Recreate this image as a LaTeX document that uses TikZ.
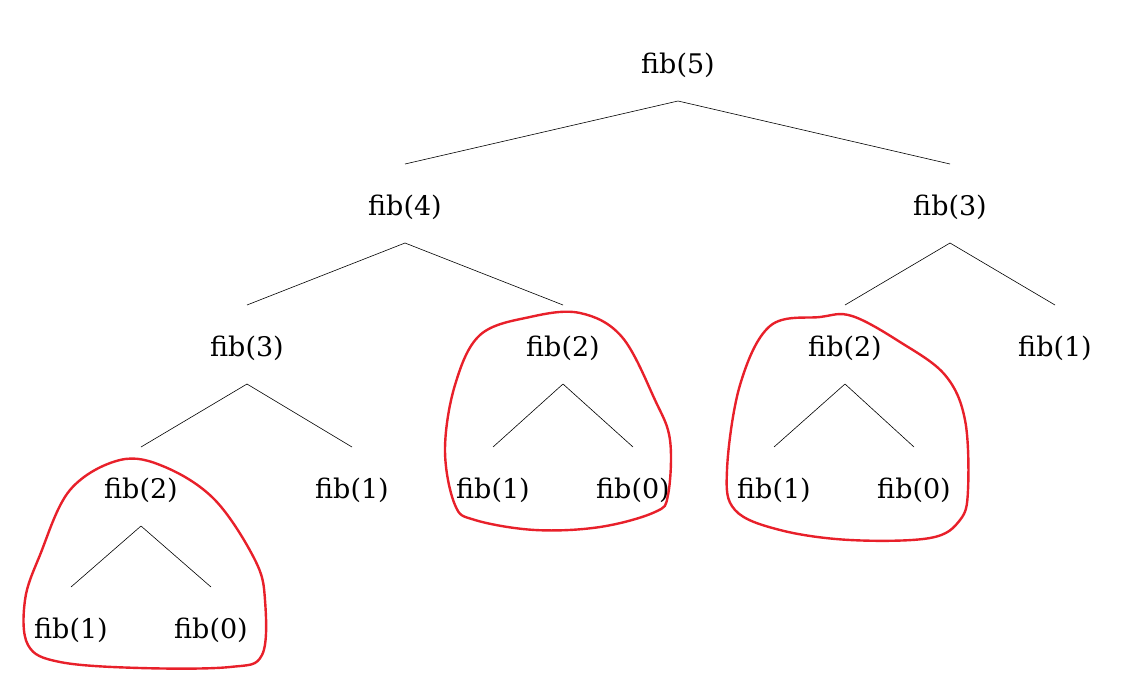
\documentclass[tikz,border=0pt]{standalone}
\usetikzlibrary{calc}
\usepackage{fontspec}
\setmainfont{DejaVu Serif}
\definecolor{loopred}{HTML}{E8202A}
\begin{document}
\begin{tikzpicture}[x=1pt,y=-1pt,
  t/.style={font=\fontsize{27}{30}\selectfont,inner sep=0pt},
  e/.style={line width=0.6pt},
  loop/.style={loopred,line width=2.4pt}]
\useasboundingbox (0,0) rectangle (1127,672);
\node[t] (a) at (678,65) {fib(5)};
\node[t] (b) at (405,207) {fib(4)};
\node[t] (c) at (950,207) {fib(3)};
\node[t] (d) at (247,348) {fib(3)};
\node[t] (e1) at (563,348) {fib(2)};
\node[t] (f) at (845,348) {fib(2)};
\node[t] (g) at (1055,348) {fib(1)};
\node[t] (h) at (141,490) {fib(2)};
\node[t] (i) at (352,490) {fib(1)};
\node[t] (j) at (493,490) {fib(1)};
\node[t] (k) at (633,490) {fib(0)};
\node[t] (l) at (774,490) {fib(1)};
\node[t] (m) at (914,490) {fib(0)};
\node[t] (n) at (71,630) {fib(1)};
\node[t] (o) at (211,630) {fib(0)};
\foreach \p/\q in {a/b,a/c,b/d,b/e1,c/f,c/g,d/h,d/i,e1/j,e1/k,f/l,f/m,h/n,h/o}
  \draw[e] ($(\p)+(0,36)$) -- ($(\q)+(0,-43)$);
\draw[loop] plot[smooth cycle,tension=0.6] coordinates {(120,460) (165,467) (215,500) (255,560) (265,600) (262,655) (230,667) (140,668) (60,662) (28,645) (25,600) (40,555) (70,490)};
\draw[loop] plot[smooth cycle,tension=0.6] coordinates {(580,313) (622,337) (655,400) (670,440) (668,495) (655,512) (600,527) (535,530) (475,520) (455,505) (445,450) (455,385) (480,335) (530,317)};
\draw[loop] plot[smooth cycle,tension=0.6] coordinates {(852,316) (900,342) (945,375) (965,420) (968,490) (960,520) (930,538) (850,540) (780,530) (735,510) (727,470) (740,385) (770,326) (820,317)};
\end{tikzpicture}
\end{document}
